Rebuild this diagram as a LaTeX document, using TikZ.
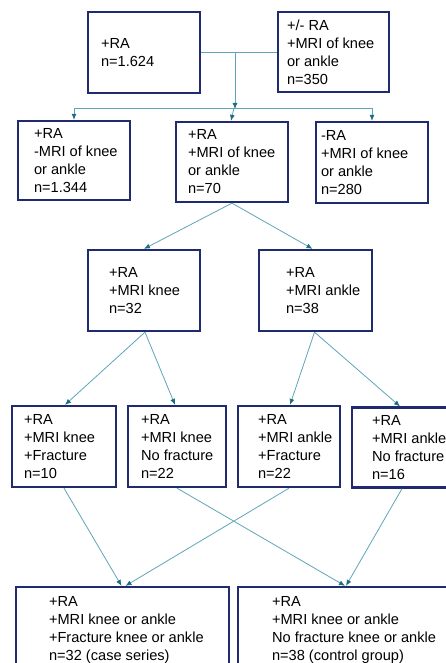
\documentclass[tikz,border=0pt]{standalone}
\usepackage{fontspec}
\setmainfont{Liberation Sans}
\usetikzlibrary{arrows.meta}

\definecolor{boxnavy}{HTML}{1F2B6E}
\definecolor{linkteal}{HTML}{5FA5B8}
\definecolor{headteal}{HTML}{1C6D84}

\tikzset{
  box/.style={draw=boxnavy, line width=2.3pt, inner sep=0pt},
  txt/.style={anchor=west, align=left, inner sep=0pt,
    font=\fontsize{14.6}{18}\selectfont},
  link/.style={draw=linkteal, line width=0.8pt},
  arr/.style={link, -{Latex[length=6pt,width=5pt,color=headteal]}}
}

\begin{document}
\begin{tikzpicture}[x=1pt, y=-1pt]
      \useasboundingbox (0, 0) rectangle (445, 663);

      % top row
      \node[box, minimum width=112pt, minimum height=81pt] (ra) at (144, 52.5) {};
      \node[txt] (ra-t) at ([xshift=14pt]ra.west) {+RA\\n=1.624};
      \node[box, minimum width=111pt, minimum height=80pt] (mri) at (333.5, 52) {};
      \node[txt] (mri-t) at ([xshift=10pt]mri.west) {+/- RA\\+MRI of knee\\or ankle\\n=350};

      \coordinate (join) at (235, 52);
      \coordinate (split) at (235, 108);
      \draw[link] (ra.east |- join) -- (mri.west |- join);
      \draw[arr] (join) -- ([yshift=-1pt]split);

      % second row
      \node[box, minimum width=112pt, minimum height=79pt] (nomri) at (74, 160.5) {};
      \node[txt] (nomri-t) at ([xshift=17pt]nomri.west) {+RA\\-MRI of knee\\or ankle\\n=1.344};
      \node[box, minimum width=112pt, minimum height=80pt] (both) at (232, 162) {};
      \node[txt] (both-t) at ([xshift=13pt]both.west) {+RA\\+MRI of knee\\or ankle\\n=70};
      \node[box, minimum width=112pt, minimum height=81pt] (nora) at (372, 162.5) {};
      \node[txt] (nora-t) at ([xshift=6pt]nora.west) {-RA\\+MRI of knee\\or ankle\\n=280};

      \draw[link] (nomri.north |- split) -- (nora.north |- split);
      \draw[arr] (nomri.north |- split) -- (nomri.north);
      \draw[arr] (nora.north |- split) -- (nora.north);
      \draw[arr] ([xshift=-1pt]split) -- ([xshift=-1pt]both.north);

      % third row
      \node[box, minimum width=112pt, minimum height=81pt] (knee) at (144, 290.5) {};
      \node[txt] (knee-t) at ([xshift=22pt]knee.west) {+RA\\+MRI knee\\n=32};
      \node[box, minimum width=113pt, minimum height=81pt] (ankle) at (315.5, 290.5) {};
      \node[txt] (ankle-t) at ([xshift=28pt]ankle.west) {+RA\\+MRI ankle\\n=38};

      \draw[arr] (both.south) -- (knee.north);
      \draw[arr] (both.south) -- ([xshift=-3pt]ankle.north);

      % fourth row
      \node[box, minimum width=104pt, minimum height=81pt] (kneefx) at (64, 446.5) {};
      \node[txt] (kneefx-t) at ([xshift=13pt]kneefx.west) {+RA\\+MRI knee\\+Fracture\\n=10};
      \node[box, minimum width=98pt, minimum height=81pt] (kneenofx) at (177, 446.5) {};
      \node[txt] (kneenofx-t) at ([xshift=14pt]kneenofx.west) {+RA\\+MRI knee\\No fracture\\n=22};
      \node[box, minimum width=102pt, minimum height=81pt] (anklefx) at (289, 446.5) {};
      \node[txt] (anklefx-t) at ([xshift=21pt]anklefx.west) {+RA\\+MRI ankle\\+Fracture\\n=22};
      \node[box, minimum width=148pt, minimum height=80pt] (anklenofx) at (426, 447.5) {};
      \node[txt] (anklenofx-t) at ([xshift=21pt]anklenofx.west) {+RA\\+MRI ankle\\No fracture\\n=16};

      \draw[arr] ([xshift=1pt]knee.south) -- ([xshift=1pt]kneefx.north);
      \draw[arr] ([xshift=1pt]knee.south) -- ([xshift=-2pt]kneenofx.north);
      \draw[arr] ([xshift=-1pt]ankle.south) -- ([xshift=1pt]anklefx.north);
      \draw[arr] ([xshift=-1pt]ankle.south) -- ([xshift=-26pt]anklenofx.north);

      % bottom row
      \node[box, minimum width=213pt, minimum height=85pt] (cases) at (122.5, 629.5) {};
      \node[txt] (cases-t) at ([xshift=34pt]cases.west) {+RA\\+MRI knee or ankle\\+Fracture knee or ankle\\n=32 (case series)};
      \node[box, minimum width=262pt, minimum height=85pt] (controls) at (369, 629.5) {};
      \node[txt] (controls-t) at ([xshift=35pt]controls.west) {+RA\\+MRI knee or ankle\\No fracture knee or ankle\\n=38 (control group)};

      \draw[arr] (kneefx.south) -- ([xshift=-1pt]cases.north);
      \draw[arr] (anklefx.south) -- ([xshift=3pt]cases.north);
      \draw[arr] (kneenofx.south) -- ([xshift=-24pt]controls.north);
      \draw[arr] ([xshift=-24pt]anklenofx.south) -- ([xshift=-23pt]controls.north);
    \end{tikzpicture}
\end{document}
